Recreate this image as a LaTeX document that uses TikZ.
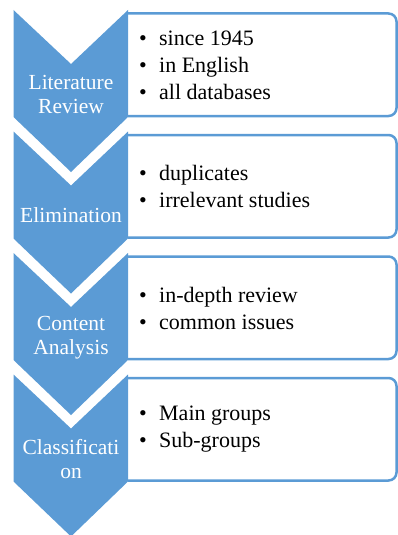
\documentclass[tikz,border=0pt]{standalone}
\usepackage{fontspec}
\setmainfont{Liberation Serif}
\definecolor{chevblue}{RGB}{91,155,213}
\tikzstyle{chevron} = [fill=chevblue]
\tikzstyle{stage} = [text=white, align=center, inner sep=0pt,
    font=\fontsize{21.5}{23.5}\selectfont]
\tikzstyle{items} = [align=left, anchor=west, inner sep=0pt,
    font=\fontsize{22}{27}\selectfont]
\tikzstyle{frame} = [draw=chevblue, line width=2.5pt, rounded corners=8pt]
\newcommand{\bul}{\makebox[20pt][l]{\textbullet}}
\newcommand{\drawchevron}[1]{\fill[chevron] (13.5,#1) -- (71,#1+54) -- (128,#1)
    -- (128,#1+107) -- (71,#1+162) -- (13.5,#1+107) -- cycle;}
\newcommand{\drawframe}[1]{\draw[frame] (128,#1+3.5) -| (396.5,#1+106) -- (128,#1+106);}

\begin{document}
\begin{tikzpicture}[x=1pt, y=-1pt]
    \clip (0,0) rectangle (398,535);
    % Draw frames and chevrons
    \drawframe{10}
    \drawframe{131.5}
    \drawframe{253}
    \drawframe{374.5}
    \drawchevron{10}
    \drawchevron{131.5}
    \drawchevron{253}
    \drawchevron{374.5}

    % Place nodes
    \node [stage] (review) at (71,94.5) {Literature\\Review};
    \node [stage] (elim) at (71,215) {Elimination};
    \node [stage] (content) at (71,337.5) {Content\\Analysis};
    \node [stage] (classif) at (71,459) {Classificati\\on};

    \node [items] (list1) at (139,65) {\bul since 1945\\\bul in English\\\bul all databases};
    \node [items] (list2) at (139,186.5) {\bul duplicates\\\bul irrelevant studies};
    \node [items] (list3) at (139,308) {\bul in-depth review\\\bul common issues};
    \node [items] (list4) at (139,429.5) {\bul Main groups\\\bul Sub-groups};
\end{tikzpicture}
\end{document}
